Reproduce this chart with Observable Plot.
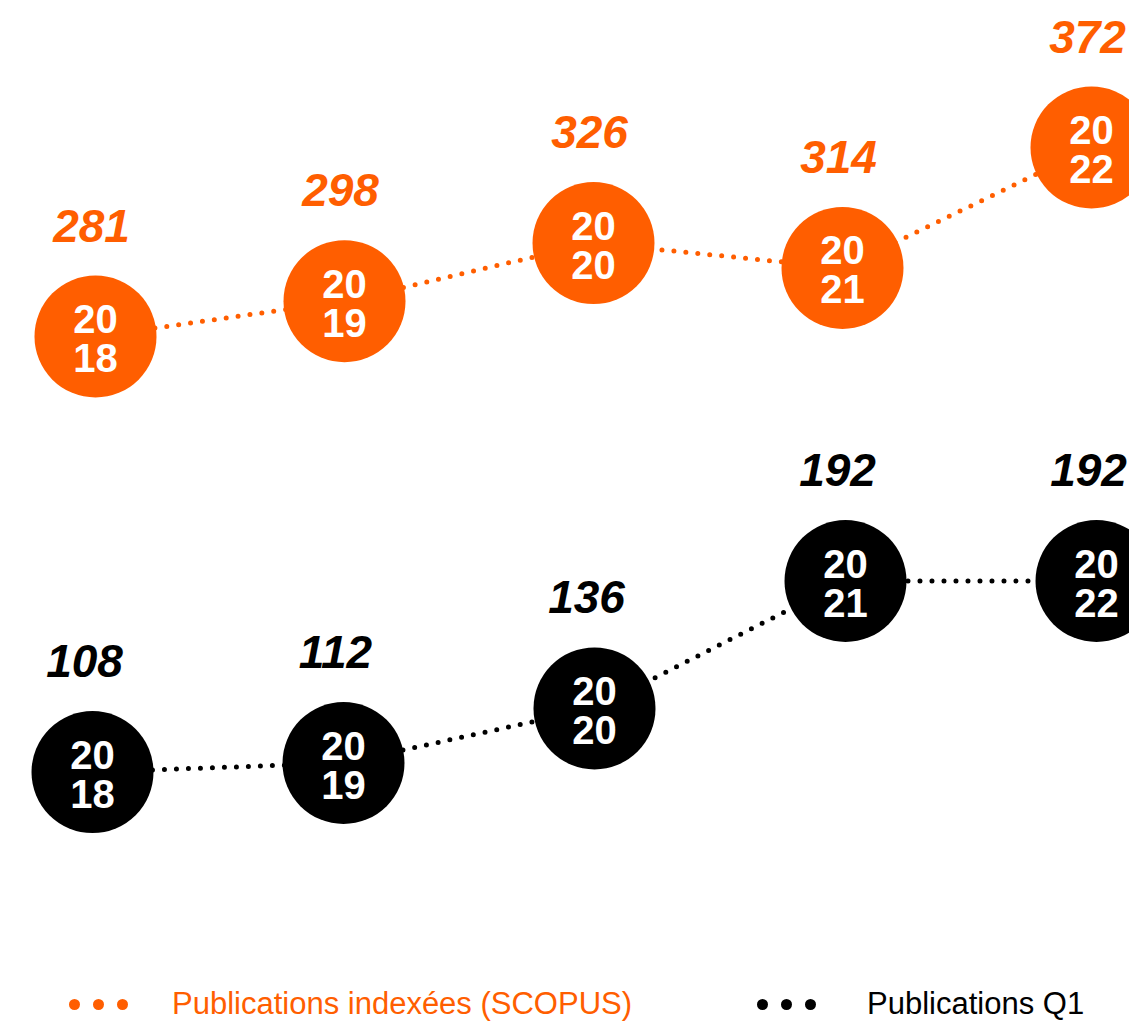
<!DOCTYPE html>
<html>
<head>
<meta charset="utf-8">
<script src="https://cdn.jsdelivr.net/npm/d3@7"></script>
<script src="https://cdn.jsdelivr.net/npm/@observablehq/plot@0.6"></script>
<style>
  html, body { margin: 0; padding: 0; background: #fff; }
  body { width: 1129px; height: 1027px; overflow: hidden; font-family: "Liberation Sans", Arial, sans-serif; }
  #wrap { position: relative; width: 1129px; height: 1027px; }
  #wrap svg { display: block; }
  .leg { position: absolute; top: 984px; height: 40px; display: flex; align-items: center; font-size: 31px; white-space: nowrap; }
  .leg .d { width: 11px; height: 11px; border-radius: 50%; display: inline-block; margin-right: 13px; }
  .leg .t { margin-left: 31px; }
</style>
</head>
<body>
<div id="wrap"></div>
<script>
const years = [2018, 2019, 2020, 2021, 2022];
const scopus = [281, 298, 326, 314, 372];
const q1 = [108, 112, 136, 192, 192];
const seriesNames = ["Publications indexées (SCOPUS)", "Publications Q1"];
const colors = ["#ff5e00", "#000000"];

const font = "'Liberation Sans', Arial, sans-serif";

function makePanel(values, color, height, xRange, yDomain, yRange, labelDx) {
  const data = years.map((yr, i) => ({year: yr, value: values[i], century: String(yr).slice(0, 2), decade: String(yr).slice(2)}));
  return Plot.plot({
    width: 1129,
    height,
    margin: 0,
    style: {fontFamily: font, background: "transparent", overflow: "hidden"},
    x: {type: "point", domain: years, range: xRange, padding: 0, axis: null},
    y: {domain: yDomain, range: yRange, axis: null},
    marks: [
      Plot.line(data, {x: "year", y: "value", stroke: color, strokeWidth: 5, strokeDasharray: "0,12", strokeLinecap: "round"}),
      Plot.dot(data, {x: "year", y: "value", r: 61, fill: color, stroke: "none"}),
      Plot.text(data, {x: "year", y: "value", text: "century", fill: "white", fontSize: 40, fontWeight: "bold", lineAnchor: "bottom", dy: -3.5}),
      Plot.text(data, {x: "year", y: "value", text: "decade", fill: "white", fontSize: 40, fontWeight: "bold", lineAnchor: "bottom", dy: 35.5}),
      Plot.text(data, {x: "year", y: "value", text: d => String(d.value), fill: color, fontSize: 46, fontWeight: "bold", fontStyle: "italic", lineAnchor: "bottom", dy: -95, dx: labelDx})
    ]
  });
}

const wrap = document.getElementById("wrap");
wrap.appendChild(makePanel(scopus, colors[0], 440, [93, 1092], [281, 372], [336, 147], -4));
wrap.appendChild(makePanel(q1, colors[1], 480, [91, 1096], [108, 192], [331.6, 140.5], -8));

function legendItem(left, color, name, gap) {
  const el = document.createElement("div");
  el.className = "leg";
  el.style.left = left + "px";
  el.style.color = color;
  for (let k = 0; k < 3; k++) {
    const d = document.createElement("span");
    d.className = "d";
    d.style.background = color;
    el.appendChild(d);
  }
  const t = document.createElement("span");
  t.className = "t";
  t.style.marginLeft = gap + "px";
  t.textContent = name;
  el.appendChild(t);
  wrap.appendChild(el);
}
legendItem(69, colors[0], seriesNames[0], 31);
legendItem(757, colors[1], seriesNames[1], 38);
</script>
</body>
</html>
